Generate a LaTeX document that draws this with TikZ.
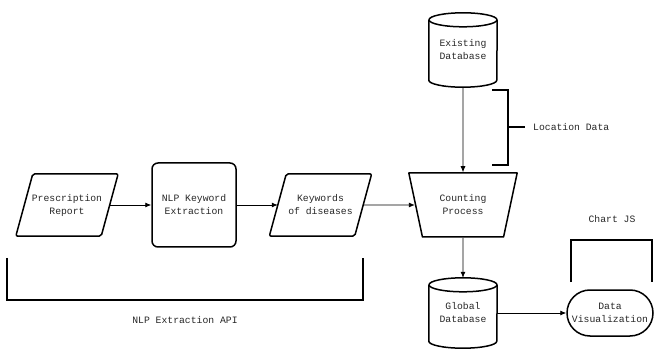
\documentclass[tikz,border=0pt]{standalone}
\usepackage{fontspec}
\setmonofont{Liberation Mono}
\usetikzlibrary{shapes.geometric,shapes.misc,arrows.meta}
\newcommand{\dbshape}[1]{%
  \draw[shp] ([yshift=-7pt]#1.north west) -- ([yshift=7pt]#1.south west)
    arc[start angle=180,end angle=360,x radius=34pt,y radius=7pt]
    -- ([yshift=-7pt]#1.north east);
  \draw[shp] ([yshift=-7pt]#1.north) ellipse (34pt and 7pt);
}
\newcommand{\parashape}[1]{%
  \draw[shp, rounded corners=2pt] ([xshift=-8.5pt]#1.south west) -- ([xshift=8.5pt]#1.north west)
    -- ([xshift=8.5pt]#1.north east) -- ([xshift=-8.5pt]#1.south east) -- cycle;
}
\begin{document}
\begin{tikzpicture}[x=1pt,y=-1pt,
  every node/.style={font=\ttfamily\fontsize{9.75}{13}\selectfont, align=center, inner sep=0pt, text=black!85},
  shp/.style={line width=1.5pt, line join=round},
  brk/.style={line width=1.4pt},
  arr/.style={line width=0.8pt, -{Latex[length=6pt,width=5pt]}},
  para/.style={minimum width=85pt, minimum height=62pt},
  dbbox/.style={minimum width=68pt},
]
\useasboundingbox (0,0) rectangle (654,350);

\node[para] (pr) at (67,205) {Prescription\\Report};
\parashape{pr}
\node[draw, shp, rounded corners=6pt, minimum width=84pt, minimum height=84pt] (nlp) at (194,205) {NLP Keyword\\Extraction};
\node[para] (kw) at (320.5,205) {Keywords\\of diseases};
\parashape{kw}
\node[trapezium, draw, shp, shape border rotate=180, trapezium left angle=68.7, trapezium right angle=68.7,
  trapezium stretches=true, minimum width=109pt, minimum height=64pt] (cp) at (463,205) {Counting\\Process};

\node[dbbox, minimum height=74pt] (edb) at (463,50) {Existing\\Database};
\dbshape{edb}
\node[dbbox, minimum height=70pt] (gdb) at (463,313) {Global\\Database};
\dbshape{gdb}

\node[rounded rectangle, draw, shp, minimum width=86pt, minimum height=46pt] (dv) at (610,313) {Data\\Visualization};

\draw[arr] (pr.east) -- (nlp);
\draw[arr] (nlp) -- (kw.west);
\draw[arr] (kw.east) -- (cp);
\draw[arr] (edb.south) -- (cp);
\draw[arr] (cp) -- (gdb.north);
\draw[arr] (gdb.east) -- (dv.west);

% Location Data bracket
\coordinate (l1) at (492,90);
\coordinate (l2) at (508,90);
\coordinate (l3) at (508,165);
\coordinate (l4) at (492,165);
\coordinate (lm) at (508,127);
\coordinate (lt) at (525,127);
\draw[brk] (l1) -- (l2) -- (l3) -- (l4);
\draw[brk] (lm) -- (lt);
\node[anchor=west] (loc) at (533,127) {Location Data};

% Chart JS bracket
\coordinate (c1) at (571,282);
\coordinate (c2) at (571,240);
\coordinate (c3) at (652,240);
\coordinate (c4) at (652,282);
\draw[brk] (c1) -- (c2) -- (c3) -- (c4);
\node (cjs) at (612,219) {Chart JS};

% NLP Extraction API bracket
\coordinate (a1) at (7,258);
\coordinate (a2) at (7,300);
\coordinate (a3) at (363,300);
\coordinate (a4) at (363,258);
\draw[brk] (a1) -- (a2) -- (a3) -- (a4);
\node (api) at (185,320) {NLP Extraction API};
\end{tikzpicture}
\end{document}
